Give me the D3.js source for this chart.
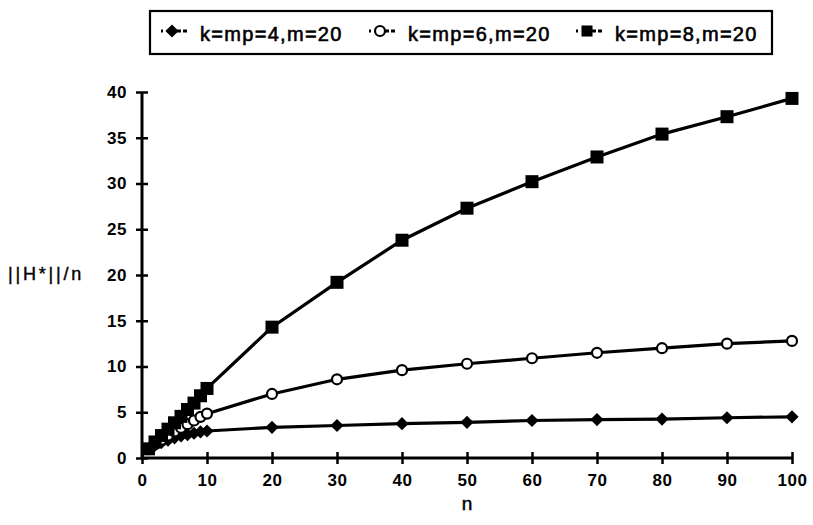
<!DOCTYPE html>
<html><head><meta charset="utf-8">
<script src="https://cdn.jsdelivr.net/npm/d3@7"></script>
<style>
body{margin:0;background:#fff;}
text{font-family:"Liberation Sans",Arial,Helvetica,sans-serif;fill:#000;}
</style></head>
<body><svg id="c" width="813" height="525"></svg>
<script>
const nValues = [1,2,3,4,5,6,7,8,9,10,20,30,40,50,60,70,80,90,100];
const seriesK4 = [1.0,1.4,1.7,1.95,2.2,2.4,2.55,2.7,2.85,2.95,3.35,3.55,3.75,3.9,4.1,4.2,4.25,4.4,4.5];
const seriesK6 = [1.0,1.5,2.0,2.45,2.9,3.3,3.7,4.1,4.5,4.85,7.0,8.6,9.6,10.3,10.9,11.5,12.0,12.5,12.8];
const seriesK8 = [1.0,1.75,2.45,3.15,3.85,4.55,5.3,6.0,6.8,7.6,14.3,19.2,23.8,27.3,30.2,32.9,35.4,37.3,39.3];
const seriesNames = ["k=mp=4,m=20","k=mp=6,m=20","k=mp=8,m=20"];
const xTicks = [0,10,20,30,40,50,60,70,80,90,100];
const yTicks = [0,5,10,15,20,25,30,35,40];

const svg = d3.select("#c");
const x = d3.scaleLinear().domain([0,100]).range([142,792]);
const y = d3.scaleLinear().domain([0,40]).range([458,92]);

const series = [
  {name:seriesNames[0], vals:seriesK4, type:"diamond"},
  {name:seriesNames[1], vals:seriesK6, type:"circle"},
  {name:seriesNames[2], vals:seriesK8, type:"square"}
];

function marker(g, type, cx, cy, scale){
  scale = scale||1;
  if(type==="diamond"){
    g.append("path").attr("d", d3.symbol(d3.symbolDiamond2, 110*scale)())
     .attr("transform",`translate(${cx},${cy})`).attr("fill","#000");
  } else if(type==="circle"){
    g.append("circle").attr("cx",cx).attr("cy",cy).attr("r",5*scale)
     .attr("fill","#fff").attr("stroke","#000").attr("stroke-width",2.2);
  } else {
    const s=13*scale;
    g.append("rect").attr("x",cx-s/2).attr("y",cy-s/2).attr("width",s).attr("height",s).attr("fill","#000");
  }
}

// Axes
const yAxis = svg.append("g").attr("transform",`translate(${x(0)},0)`)
  .call(d3.axisLeft(y).tickValues(yTicks).tickSize(6).tickPadding(9).tickFormat(d3.format("d")));
yAxis.select(".domain").attr("stroke-width",3).attr("d",`M0,${y(0)}V${y(40)}`);
yAxis.selectAll(".tick line").attr("x1",6).attr("stroke-width",2.5);
yAxis.selectAll(".tick text").attr("font-size",17).attr("font-weight","bold").attr("letter-spacing","0.6px")
  .style("font-family","Liberation Sans, Arial, sans-serif");

const xAxis = svg.append("g").attr("transform",`translate(0,${y(0)})`)
  .call(d3.axisBottom(x).tickValues(xTicks).tickSize(6).tickPadding(10).tickFormat(d3.format("d")));
xAxis.select(".domain").attr("stroke-width",3).attr("d",`M${x(0)},0H${x(100)}`);
xAxis.selectAll(".tick line").attr("y1",-6).attr("stroke-width",2.5);
xAxis.selectAll(".tick text").attr("font-size",17).attr("font-weight","bold").attr("letter-spacing","0.6px")
  .style("font-family","Liberation Sans, Arial, sans-serif");

svg.append("text").attr("x",x(50)).attr("y",510).attr("text-anchor","middle")
  .attr("font-size",19).attr("stroke","#000").attr("stroke-width",0.5).text("n");
svg.append("text").attr("x",8).attr("y",280).attr("text-anchor","start")
  .attr("font-size",18).attr("letter-spacing","2.8px").attr("stroke","#000").attr("stroke-width",0.4).text("||H*||/n");

// Lines and markers
const line = d3.line().x((d,i)=>x(nValues[i])).y(d=>y(d));
series.forEach(s=>{
  svg.append("path").datum(s.vals).attr("d",line).attr("fill","none")
    .attr("stroke","#000").attr("stroke-width",3.2);
});
series.forEach(s=>{
  const g = svg.append("g");
  s.vals.forEach((v,i)=>marker(g, s.type, x(nValues[i]), y(v)));
});

// Legend
const lg = svg.append("g");
lg.append("rect").attr("x",150).attr("y",11).attr("width",622).attr("height",43)
  .attr("fill","#fff").attr("stroke","#000").attr("stroke-width",2.2);
const legendX = [172, 380, 587];
series.forEach((s,i)=>{
  const cx = legendX[i];
  lg.append("line").attr("x1",cx-11).attr("x2",cx+15).attr("y1",31).attr("y2",31)
    .attr("stroke","#000").attr("stroke-width",3).attr("stroke-dasharray","2,4,14,2,6");
  marker(lg, s.type, cx, 31, s.type==="square"?0.85:1);
  lg.append("text").attr("x",cx+28).attr("y",41).attr("font-size",20)
    .attr("letter-spacing","1.3px").attr("stroke","#000").attr("stroke-width",0.6).text(s.name);
});
</script></body></html>
